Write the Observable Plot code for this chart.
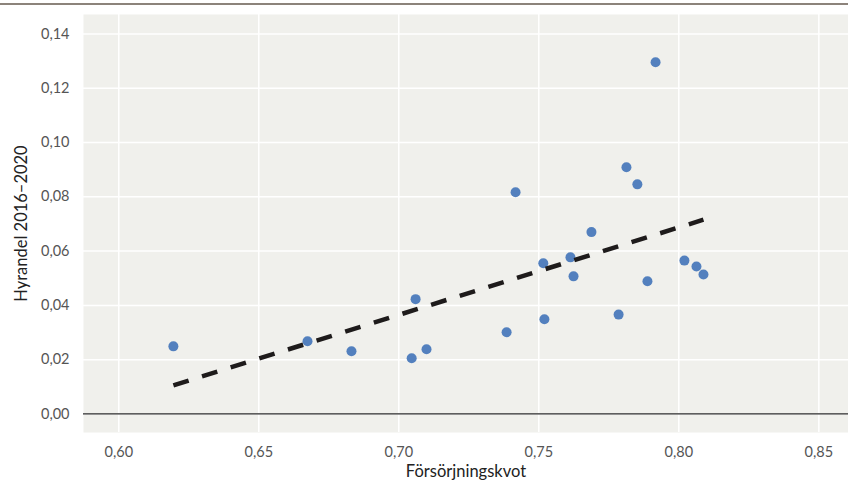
<!DOCTYPE html>
<html>
<head>
<meta charset="utf-8">
<script src="https://cdn.jsdelivr.net/npm/d3@7"></script>
<script src="https://cdn.jsdelivr.net/npm/@observablehq/plot@0.6"></script>
<style>
  html, body { margin: 0; padding: 0; background: #fff; }
  #wrap { position: relative; width: 848px; height: 485px; }
  #rule { position: absolute; left: 0; top: 3px; width: 848px; height: 2px; background: #8c837b; }
  svg { font-family: Lato, "Open Sans", sans-serif; }
</style>
</head>
<body>
<div id="wrap"><div id="rule"></div></div>
<script>
const forsorjningskvot = [0.6195, 0.6674, 0.6831, 0.7046, 0.7060, 0.7099, 0.7385, 0.7417, 0.7516, 0.7520, 0.7613, 0.7624, 0.7688, 0.7785, 0.7813, 0.7852, 0.7888, 0.7917, 0.8020, 0.8063, 0.8088];
const hyrandel = [0.0249, 0.0268, 0.0231, 0.0205, 0.0423, 0.0238, 0.0301, 0.0817, 0.0555, 0.0349, 0.0577, 0.0507, 0.0670, 0.0366, 0.0909, 0.0846, 0.0489, 0.1296, 0.0565, 0.0543, 0.0514];
const xTicks = [0.60, 0.65, 0.70, 0.75, 0.80, 0.85];
const yTicks = [0.00, 0.02, 0.04, 0.06, 0.08, 0.10, 0.12, 0.14];

const data = forsorjningskvot.map((x, i) => ({x, y: hyrandel[i]}));
const fmt = d => d.toFixed(2).replace(".", ",");

const chart = Plot.plot({
  width: 848,
  height: 485,
  marginLeft: 83,
  marginRight: 0,
  marginTop: 14,
  marginBottom: 53,
  style: {fontFamily: "Lato, 'Open Sans', sans-serif", background: "transparent"},
  x: {domain: [0.5874, 0.8606], ticks: xTicks},
  y: {domain: [-0.00685, 0.1472], ticks: yTicks},
  marks: [
    Plot.frame({fill: "#f0f0ec", stroke: null}),
    Plot.gridX(xTicks, {stroke: "#ffffff", strokeOpacity: 1, strokeWidth: 1.5}),
    Plot.gridY(yTicks, {stroke: "#ffffff", strokeOpacity: 1, strokeWidth: 1.5}),
    Plot.ruleY([0], {stroke: "#2a2a2a", strokeWidth: 1.3}),
    Plot.axisX(xTicks, {tickSize: 0, tickPadding: 14, tickFormat: fmt, fontSize: 14.5, fill: "#555",
      label: "Försörjningskvot", labelArrow: "none", labelAnchor: "center", labelOffset: 44}),
    Plot.axisY(yTicks, {tickSize: 0, tickPadding: 14, tickFormat: fmt, fontSize: 14.5, fill: "#555",
      label: "Hyrandel 2016–2020", labelArrow: "none", labelAnchor: "center", labelOffset: 68}),
    Plot.dot(data, {x: "x", y: "y", r: 5, fill: "#5380be", stroke: null}),
    Plot.linearRegressionY(data, {x: "x", y: "y", ci: 0, stroke: "#1e1b1b", strokeWidth: 4.5,
      strokeDasharray: "16,14", strokeLinecap: "butt"})
  ]
});
document.getElementById("wrap").appendChild(chart);
chart.querySelectorAll('[aria-label="x-axis label"] text, [aria-label="y-axis label"] text').forEach(t => {
  t.textContent = t.textContent.replace(/\s*[→↑]\s*/g, "");
  t.setAttribute("fill", "#222");
  t.style.fontSize = "16.5px";
});
</script>
</body>
</html>
